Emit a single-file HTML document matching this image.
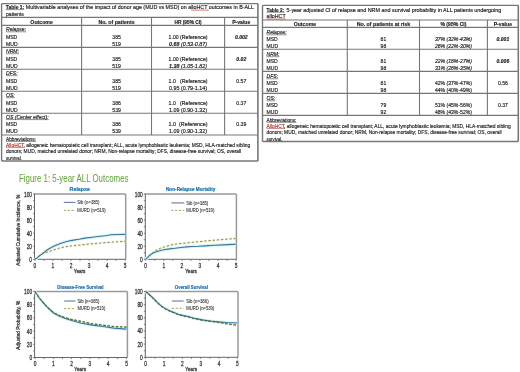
<!DOCTYPE html>
<html><head><meta charset="utf-8"><style>
html,body{margin:0;padding:0;background:#fff;width:520px;height:372px;overflow:hidden}
svg{display:block;will-change:transform;font-family:"Liberation Sans", sans-serif}
text{stroke-width:0.18px}
</style></head><body>
<svg width="520" height="372" viewBox="0 0 520 372" fill="#222">
<line x1="1.6" y1="3.6" x2="257.9" y2="3.6" stroke="#777" stroke-width="1.2"/>
<line x1="1.6" y1="161.0" x2="257.9" y2="161.0" stroke="#777" stroke-width="1.6"/>
<line x1="1.6" y1="3.6" x2="1.6" y2="161.0" stroke="#777" stroke-width="1.4"/>
<line x1="257.9" y1="3.6" x2="257.9" y2="161.0" stroke="#777" stroke-width="1.6"/>
<line x1="1.6" y1="17.4" x2="257.9" y2="17.4" stroke="#777" stroke-width="1.1"/>
<line x1="1.6" y1="25.4" x2="257.9" y2="25.4" stroke="#777" stroke-width="1.1"/>
<line x1="1.6" y1="47.35" x2="257.9" y2="47.35" stroke="#777" stroke-width="1.1"/>
<line x1="1.6" y1="69.3" x2="257.9" y2="69.3" stroke="#777" stroke-width="1.1"/>
<line x1="1.6" y1="91.25" x2="257.9" y2="91.25" stroke="#777" stroke-width="1.1"/>
<line x1="1.6" y1="113.2" x2="257.9" y2="113.2" stroke="#777" stroke-width="1.1"/>
<line x1="1.6" y1="135.0" x2="257.9" y2="135.0" stroke="#777" stroke-width="1.1"/>
<line x1="81.6" y1="17.4" x2="81.6" y2="135.0" stroke="#777" stroke-width="1.1"/>
<line x1="151.5" y1="17.4" x2="151.5" y2="135.0" stroke="#777" stroke-width="1.1"/>
<line x1="224.6" y1="17.4" x2="224.6" y2="135.0" stroke="#777" stroke-width="1.1"/>
<line x1="262.5" y1="5.4" x2="518.3" y2="5.4" stroke="#777" stroke-width="1.2"/>
<line x1="262.5" y1="141.5" x2="518.3" y2="141.5" stroke="#777" stroke-width="1.6"/>
<line x1="262.5" y1="5.4" x2="262.5" y2="141.5" stroke="#777" stroke-width="1.4"/>
<line x1="518.3" y1="5.4" x2="518.3" y2="141.5" stroke="#777" stroke-width="1.6"/>
<line x1="262.5" y1="20.0" x2="518.3" y2="20.0" stroke="#777" stroke-width="1.1"/>
<line x1="262.5" y1="27.4" x2="518.3" y2="27.4" stroke="#777" stroke-width="1.1"/>
<line x1="262.5" y1="49.3" x2="518.3" y2="49.3" stroke="#777" stroke-width="1.1"/>
<line x1="262.5" y1="71.4" x2="518.3" y2="71.4" stroke="#777" stroke-width="1.1"/>
<line x1="262.5" y1="93.4" x2="518.3" y2="93.4" stroke="#777" stroke-width="1.1"/>
<line x1="262.5" y1="115.4" x2="518.3" y2="115.4" stroke="#777" stroke-width="1.1"/>
<line x1="347.3" y1="20.0" x2="347.3" y2="115.4" stroke="#777" stroke-width="1.1"/>
<line x1="419.5" y1="20.0" x2="419.5" y2="115.4" stroke="#777" stroke-width="1.1"/>
<line x1="487.4" y1="20.0" x2="487.4" y2="115.4" stroke="#777" stroke-width="1.1"/>
<g>
<text font-size="6.0" font-weight="bold" stroke="#222" x="5.8" y="9.0" textLength="18.5" lengthAdjust="spacingAndGlyphs">Table 1:</text>
<line x1="5.80" y1="9.60" x2="24.30" y2="9.60" stroke="#333" stroke-width="0.55"/>
<text font-size="6.0" stroke="#222" x="25.8" y="9.0" textLength="228.2" lengthAdjust="spacingAndGlyphs">Multivariable analyses of the impact of donor age (MUD vs MSD) on alloHCT outcomes in B-ALL</text>
<line x1="191.2" y1="10.1" x2="208.8" y2="10.1" stroke="#c04040" stroke-width="0.7"/>
<text font-size="6.0" stroke="#222" transform="matrix(0.85,0,0,1,6,15.7)">patients</text>
<text font-size="6.0" text-anchor="middle" font-weight="bold" stroke="#222" x="41.599999999999994" y="23.6" textLength="22.5" lengthAdjust="spacingAndGlyphs">Outcome</text>
<text font-size="6.0" text-anchor="middle" font-weight="bold" stroke="#222" x="116.55" y="23.6" textLength="36.3" lengthAdjust="spacingAndGlyphs">No. of patients</text>
<text font-size="6.0" text-anchor="middle" font-weight="bold" stroke="#222" x="188.05" y="23.6" textLength="27" lengthAdjust="spacingAndGlyphs">HR (95% CI)</text>
<text font-size="6.0" text-anchor="middle" font-weight="bold" stroke="#222" x="241.25" y="23.6" textLength="18.2" lengthAdjust="spacingAndGlyphs">P-value</text>
<text font-size="6.0" font-style="italic" stroke="#222" transform="matrix(0.85,0,0,1,6,31.2)">Relapse:</text>
<line x1="6.00" y1="31.80" x2="26.13" y2="31.80" stroke="#333" stroke-width="0.55"/>
<text font-size="6.0" stroke="#222" transform="matrix(0.85,0,0,1,6,38.65)">MSD</text>
<text font-size="6.0" stroke="#222" transform="matrix(0.85,0,0,1,6,45.65)">MUD</text>
<text font-size="6.0" text-anchor="middle" stroke="#222" transform="matrix(0.85,0,0,1,116.55,38.65)">385</text>
<text font-size="6.0" text-anchor="middle" stroke="#222" transform="matrix(0.85,0,0,1,116.55,45.65)">519</text>
<text font-size="6.0" text-anchor="middle" stroke="#222" x="188.05" y="38.65" textLength="39" lengthAdjust="spacingAndGlyphs">1.00 (Reference)</text>
<text font-size="6.0" text-anchor="middle" font-style="italic" stroke="#222" x="188.05" y="45.65" textLength="38" lengthAdjust="spacingAndGlyphs"><tspan font-weight="bold">0.68</tspan> (0.53-0.87)</text>
<text font-size="6.0" text-anchor="middle" font-weight="bold" font-style="italic" stroke="#222" transform="matrix(0.85,0,0,1,241.25,38.65)">0.002</text>
<text font-size="6.0" font-style="italic" stroke="#222" transform="matrix(0.85,0,0,1,6,53.15)">NRM:</text>
<line x1="6.00" y1="53.75" x2="19.03" y2="53.75" stroke="#333" stroke-width="0.55"/>
<text font-size="6.0" stroke="#222" transform="matrix(0.85,0,0,1,6,60.6)">MSD</text>
<text font-size="6.0" stroke="#222" transform="matrix(0.85,0,0,1,6,67.6)">MUD</text>
<text font-size="6.0" text-anchor="middle" stroke="#222" transform="matrix(0.85,0,0,1,116.55,60.6)">385</text>
<text font-size="6.0" text-anchor="middle" stroke="#222" transform="matrix(0.85,0,0,1,116.55,67.6)">519</text>
<text font-size="6.0" text-anchor="middle" stroke="#222" x="188.05" y="60.6" textLength="39" lengthAdjust="spacingAndGlyphs">1.00 (Reference)</text>
<text font-size="6.0" text-anchor="middle" font-style="italic" stroke="#222" x="188.05" y="67.6" textLength="38" lengthAdjust="spacingAndGlyphs"><tspan font-weight="bold">1.38</tspan> (1.05-1.82)</text>
<text font-size="6.0" text-anchor="middle" font-weight="bold" font-style="italic" stroke="#222" transform="matrix(0.85,0,0,1,241.25,60.6)">0.02</text>
<text font-size="6.0" font-style="italic" stroke="#222" transform="matrix(0.85,0,0,1,6,75.1)">DFS:</text>
<line x1="6.00" y1="75.70" x2="17.62" y2="75.70" stroke="#333" stroke-width="0.55"/>
<text font-size="6.0" stroke="#222" transform="matrix(0.85,0,0,1,6,82.55)">MSD</text>
<text font-size="6.0" stroke="#222" transform="matrix(0.85,0,0,1,6,89.55)">MUD</text>
<text font-size="6.0" text-anchor="middle" stroke="#222" transform="matrix(0.85,0,0,1,116.55,82.55)">385</text>
<text font-size="6.0" text-anchor="middle" stroke="#222" transform="matrix(0.85,0,0,1,116.55,89.55)">519</text>
<text font-size="6.0" text-anchor="middle" stroke="#222" x="188.05" y="82.55" textLength="39" lengthAdjust="spacingAndGlyphs">1.0&#160;&#160;&#160;(Reference)</text>
<text font-size="6.0" text-anchor="middle" stroke="#222" x="188.05" y="89.55" textLength="38" lengthAdjust="spacingAndGlyphs">0.95 (0.79-1.14)</text>
<text font-size="6.0" text-anchor="middle" stroke="#222" transform="matrix(0.85,0,0,1,241.25,82.55)">0.57</text>
<text font-size="6.0" font-style="italic" stroke="#222" transform="matrix(0.85,0,0,1,6,97.05)">OS:</text>
<line x1="6.00" y1="97.65" x2="14.79" y2="97.65" stroke="#333" stroke-width="0.55"/>
<text font-size="6.0" stroke="#222" transform="matrix(0.85,0,0,1,6,104.5)">MSD</text>
<text font-size="6.0" stroke="#222" transform="matrix(0.85,0,0,1,6,111.5)">MUD</text>
<text font-size="6.0" text-anchor="middle" stroke="#222" transform="matrix(0.85,0,0,1,116.55,104.5)">386</text>
<text font-size="6.0" text-anchor="middle" stroke="#222" transform="matrix(0.85,0,0,1,116.55,111.5)">539</text>
<text font-size="6.0" text-anchor="middle" stroke="#222" x="188.05" y="104.5" textLength="39" lengthAdjust="spacingAndGlyphs">1.0&#160;&#160;&#160;(Reference)</text>
<text font-size="6.0" text-anchor="middle" stroke="#222" x="188.05" y="111.5" textLength="38" lengthAdjust="spacingAndGlyphs">1.09 (0.90-1.32)</text>
<text font-size="6.0" text-anchor="middle" stroke="#222" transform="matrix(0.85,0,0,1,241.25,104.5)">0.37</text>
<text font-size="6.0" font-style="italic" stroke="#222" transform="matrix(0.85,0,0,1,6,119.0)">OS (Center effect):</text>
<line x1="6.00" y1="119.60" x2="48.80" y2="119.60" stroke="#333" stroke-width="0.55"/>
<text font-size="6.0" stroke="#222" transform="matrix(0.85,0,0,1,6,126.45)">MSD</text>
<text font-size="6.0" stroke="#222" transform="matrix(0.85,0,0,1,6,133.45)">MUD</text>
<text font-size="6.0" text-anchor="middle" stroke="#222" transform="matrix(0.85,0,0,1,116.55,126.45)">386</text>
<text font-size="6.0" text-anchor="middle" stroke="#222" transform="matrix(0.85,0,0,1,116.55,133.45)">539</text>
<text font-size="6.0" text-anchor="middle" stroke="#222" x="188.05" y="126.45" textLength="39" lengthAdjust="spacingAndGlyphs">1.0&#160;&#160;(Reference)</text>
<text font-size="6.0" text-anchor="middle" stroke="#222" x="188.05" y="133.45" textLength="38" lengthAdjust="spacingAndGlyphs">1.09 (0.90-1.32)</text>
<text font-size="6.0" text-anchor="middle" stroke="#222" transform="matrix(0.85,0,0,1,241.25,126.45)">0.39</text>
<text font-size="6.0" stroke="#222" x="6" y="140.8" textLength="29.9" lengthAdjust="spacingAndGlyphs">Abbreviations:</text>
<line x1="6.00" y1="141.40" x2="35.90" y2="141.40" stroke="#333" stroke-width="0.55"/>
<line x1="6.00" y1="147.50" x2="24.15" y2="147.50" stroke="#b03a2e" stroke-width="0.55"/>
<text font-size="6.0" stroke="#222" x="6" y="146.9" textLength="244.2" lengthAdjust="spacingAndGlyphs"><tspan fill="#b03a2e" stroke="#b03a2e">AlloHCT</tspan>, allogeneic hematopoietic cell transplant; ALL, acute lymphoblastic leukemia; MSD, HLA-matched sibling</text>
<text font-size="6.0" stroke="#222" x="6" y="153.1" textLength="235.2" lengthAdjust="spacingAndGlyphs">donors; MUD, matched unrelated donor; NRM, Non-relapse mortality; DFS, disease-free survival; OS, overall</text>
<text font-size="6.0" stroke="#222" x="6" y="159.6" textLength="15.8" lengthAdjust="spacingAndGlyphs">survival.</text>
</g>
<text font-size="6.0" font-weight="bold" stroke="#222" x="266.6" y="11.6" textLength="17.7" lengthAdjust="spacingAndGlyphs">Table 2:</text>
<line x1="266.60" y1="12.20" x2="284.30" y2="12.20" stroke="#333" stroke-width="0.55"/>
<text font-size="6.0" stroke="#222" x="286.6" y="11.6" textLength="214.7" lengthAdjust="spacingAndGlyphs">5-year adjusted CI of relapse and NRM and survival probability in ALL patients undergoing</text>
<text font-size="6.0" stroke="#222" x="266.6" y="18.1" textLength="19" lengthAdjust="spacingAndGlyphs">alloHCT</text>
<line x1="266.6" y1="19.0" x2="285.6" y2="19.0" stroke="#b04040" stroke-width="0.7"/>
<text font-size="6.0" text-anchor="middle" font-weight="bold" stroke="#222" x="304.9" y="26.0" textLength="22.5" lengthAdjust="spacingAndGlyphs">Outcome</text>
<text font-size="6.0" text-anchor="middle" font-weight="bold" stroke="#222" x="383.4" y="26.0" textLength="53.5" lengthAdjust="spacingAndGlyphs">No. of patients at risk</text>
<text font-size="6.0" text-anchor="middle" font-weight="bold" stroke="#222" x="453.45" y="26.0" textLength="26" lengthAdjust="spacingAndGlyphs">% (95% CI)</text>
<text font-size="6.0" text-anchor="middle" font-weight="bold" stroke="#222" x="502.84999999999997" y="26.0" textLength="18.3" lengthAdjust="spacingAndGlyphs">P-value</text>
<text font-size="6.0" font-style="italic" stroke="#222" transform="matrix(0.85,0,0,1,266.5,34.199999999999996)">Relapse:</text>
<line x1="266.50" y1="34.80" x2="286.63" y2="34.80" stroke="#333" stroke-width="0.55"/>
<text font-size="6.0" stroke="#222" transform="matrix(0.85,0,0,1,266.5,40.7)">MSD</text>
<text font-size="6.0" stroke="#222" transform="matrix(0.85,0,0,1,266.5,48.2)">MUD</text>
<text font-size="6.0" text-anchor="middle" stroke="#222" transform="matrix(0.85,0,0,1,383.4,40.7)">81</text>
<text font-size="6.0" text-anchor="middle" stroke="#222" transform="matrix(0.85,0,0,1,383.4,48.2)">98</text>
<text font-size="6.0" text-anchor="middle" font-style="italic" stroke="#222" x="453.45" y="40.7" textLength="37" lengthAdjust="spacingAndGlyphs">37% (32%-43%)</text>
<text font-size="6.0" text-anchor="middle" font-style="italic" stroke="#222" x="453.45" y="48.2" textLength="37" lengthAdjust="spacingAndGlyphs">26% (22%-30%)</text>
<text font-size="6.0" text-anchor="middle" font-weight="bold" font-style="italic" stroke="#222" transform="matrix(0.85,0,0,1,502.84999999999997,40.7)">0.001</text>
<text font-size="6.0" font-style="italic" stroke="#222" transform="matrix(0.85,0,0,1,266.5,56.099999999999994)">NRM:</text>
<line x1="266.50" y1="56.70" x2="279.53" y2="56.70" stroke="#333" stroke-width="0.55"/>
<text font-size="6.0" stroke="#222" transform="matrix(0.85,0,0,1,266.5,62.599999999999994)">MSD</text>
<text font-size="6.0" stroke="#222" transform="matrix(0.85,0,0,1,266.5,70.1)">MUD</text>
<text font-size="6.0" text-anchor="middle" stroke="#222" transform="matrix(0.85,0,0,1,383.4,62.599999999999994)">81</text>
<text font-size="6.0" text-anchor="middle" stroke="#222" transform="matrix(0.85,0,0,1,383.4,70.1)">98</text>
<text font-size="6.0" text-anchor="middle" font-style="italic" stroke="#222" x="453.45" y="62.599999999999994" textLength="37" lengthAdjust="spacingAndGlyphs">22% (18%-27%)</text>
<text font-size="6.0" text-anchor="middle" font-style="italic" stroke="#222" x="453.45" y="70.1" textLength="37" lengthAdjust="spacingAndGlyphs">31% (26%-35%)</text>
<text font-size="6.0" text-anchor="middle" font-weight="bold" font-style="italic" stroke="#222" transform="matrix(0.85,0,0,1,502.84999999999997,62.599999999999994)">0.006</text>
<text font-size="6.0" font-style="italic" stroke="#222" transform="matrix(0.85,0,0,1,266.5,78.2)">DFS:</text>
<line x1="266.50" y1="78.80" x2="278.12" y2="78.80" stroke="#333" stroke-width="0.55"/>
<text font-size="6.0" stroke="#222" transform="matrix(0.85,0,0,1,266.5,84.7)">MSD</text>
<text font-size="6.0" stroke="#222" transform="matrix(0.85,0,0,1,266.5,92.2)">MUD</text>
<text font-size="6.0" text-anchor="middle" stroke="#222" transform="matrix(0.85,0,0,1,383.4,84.7)">81</text>
<text font-size="6.0" text-anchor="middle" stroke="#222" transform="matrix(0.85,0,0,1,383.4,92.2)">98</text>
<text font-size="6.0" text-anchor="middle" stroke="#222" x="453.45" y="84.7" textLength="37" lengthAdjust="spacingAndGlyphs">42% (37%-47%)</text>
<text font-size="6.0" text-anchor="middle" stroke="#222" x="453.45" y="92.2" textLength="37" lengthAdjust="spacingAndGlyphs">44% (40%-49%)</text>
<text font-size="6.0" text-anchor="middle" stroke="#222" transform="matrix(0.85,0,0,1,502.84999999999997,84.7)">0.56</text>
<text font-size="6.0" font-style="italic" stroke="#222" transform="matrix(0.85,0,0,1,266.5,100.2)">OS:</text>
<line x1="266.50" y1="100.80" x2="275.29" y2="100.80" stroke="#333" stroke-width="0.55"/>
<text font-size="6.0" stroke="#222" transform="matrix(0.85,0,0,1,266.5,106.7)">MSD</text>
<text font-size="6.0" stroke="#222" transform="matrix(0.85,0,0,1,266.5,114.2)">MUD</text>
<text font-size="6.0" text-anchor="middle" stroke="#222" transform="matrix(0.85,0,0,1,383.4,106.7)">79</text>
<text font-size="6.0" text-anchor="middle" stroke="#222" transform="matrix(0.85,0,0,1,383.4,114.2)">92</text>
<text font-size="6.0" text-anchor="middle" stroke="#222" x="453.45" y="106.7" textLength="37" lengthAdjust="spacingAndGlyphs">51% (45%-56%)</text>
<text font-size="6.0" text-anchor="middle" stroke="#222" x="453.45" y="114.2" textLength="37" lengthAdjust="spacingAndGlyphs">48% (43%-52%)</text>
<text font-size="6.0" text-anchor="middle" stroke="#222" transform="matrix(0.85,0,0,1,502.84999999999997,106.7)">0.37</text>
<text font-size="6.0" stroke="#222" x="266.5" y="121.7" textLength="29.9" lengthAdjust="spacingAndGlyphs">Abbreviations:</text>
<line x1="266.50" y1="122.30" x2="296.40" y2="122.30" stroke="#333" stroke-width="0.55"/>
<line x1="266.50" y1="128.50" x2="284.65" y2="128.50" stroke="#b03a2e" stroke-width="0.55"/>
<text font-size="6.0" stroke="#222" x="266.5" y="127.9" textLength="244.2" lengthAdjust="spacingAndGlyphs"><tspan fill="#b03a2e" stroke="#b03a2e">AlloHCT</tspan>, allogeneic hematopoietic cell transplant; ALL, acute lymphoblastic leukemia; MSD, HLA-matched sibling</text>
<text font-size="6.0" stroke="#222" x="266.5" y="133.9" textLength="235.2" lengthAdjust="spacingAndGlyphs">donors; MUD, matched unrelated donor; NRM, Non-relapse mortality; DFS, disease-free survival; OS, overall</text>
<text font-size="6.0" stroke="#222" x="266.5" y="140.8" textLength="15.8" lengthAdjust="spacingAndGlyphs">survival.</text>
<text font-size="10.3" fill="#68a43c" stroke="#68a43c" x="18.9" y="181.6" textLength="109.6" lengthAdjust="spacingAndGlyphs" style="stroke-width:0.05px">Figure 1: 5-year ALL Outcomes</text>
<line x1="34.5" y1="194.1" x2="125.7" y2="194.1" stroke="#9a9a9a" stroke-width="1.5"/>
<line x1="125.7" y1="194.1" x2="125.7" y2="259.3" stroke="#9a9a9a" stroke-width="1.5"/>
<line x1="34.5" y1="193.5" x2="34.5" y2="259.8" stroke="#666" stroke-width="1.0"/>
<line x1="34.0" y1="259.3" x2="125.7" y2="259.3" stroke="#666" stroke-width="1.0"/>
<line x1="33.0" y1="259.3" x2="34.5" y2="259.3" stroke="#666" stroke-width="0.8"/>
<line x1="33.0" y1="252.78" x2="34.5" y2="252.78" stroke="#666" stroke-width="0.8"/>
<line x1="33.0" y1="246.26000000000002" x2="34.5" y2="246.26000000000002" stroke="#666" stroke-width="0.8"/>
<line x1="33.0" y1="239.74" x2="34.5" y2="239.74" stroke="#666" stroke-width="0.8"/>
<line x1="33.0" y1="233.22" x2="34.5" y2="233.22" stroke="#666" stroke-width="0.8"/>
<line x1="33.0" y1="226.7" x2="34.5" y2="226.7" stroke="#666" stroke-width="0.8"/>
<line x1="33.0" y1="220.18" x2="34.5" y2="220.18" stroke="#666" stroke-width="0.8"/>
<line x1="33.0" y1="213.66" x2="34.5" y2="213.66" stroke="#666" stroke-width="0.8"/>
<line x1="33.0" y1="207.14" x2="34.5" y2="207.14" stroke="#666" stroke-width="0.8"/>
<line x1="33.0" y1="200.62" x2="34.5" y2="200.62" stroke="#666" stroke-width="0.8"/>
<line x1="33.0" y1="194.1" x2="34.5" y2="194.1" stroke="#666" stroke-width="0.8"/>
<line x1="34.9" y1="259.3" x2="34.9" y2="260.90000000000003" stroke="#666" stroke-width="0.8"/>
<line x1="43.93" y1="259.3" x2="43.93" y2="260.90000000000003" stroke="#666" stroke-width="0.8"/>
<line x1="52.96" y1="259.3" x2="52.96" y2="260.90000000000003" stroke="#666" stroke-width="0.8"/>
<line x1="61.99" y1="259.3" x2="61.99" y2="260.90000000000003" stroke="#666" stroke-width="0.8"/>
<line x1="71.02000000000001" y1="259.3" x2="71.02000000000001" y2="260.90000000000003" stroke="#666" stroke-width="0.8"/>
<line x1="80.05000000000001" y1="259.3" x2="80.05000000000001" y2="260.90000000000003" stroke="#666" stroke-width="0.8"/>
<line x1="89.08000000000001" y1="259.3" x2="89.08000000000001" y2="260.90000000000003" stroke="#666" stroke-width="0.8"/>
<line x1="98.11000000000001" y1="259.3" x2="98.11000000000001" y2="260.90000000000003" stroke="#666" stroke-width="0.8"/>
<line x1="107.14000000000001" y1="259.3" x2="107.14000000000001" y2="260.90000000000003" stroke="#666" stroke-width="0.8"/>
<line x1="116.17000000000002" y1="259.3" x2="116.17000000000002" y2="260.90000000000003" stroke="#666" stroke-width="0.8"/>
<line x1="125.20000000000002" y1="259.3" x2="125.20000000000002" y2="260.90000000000003" stroke="#666" stroke-width="0.8"/>
<text font-size="6.7" text-anchor="end" fill="#3a3a3a" stroke="#3a3a3a" transform="matrix(0.72,0,0,1,32.0,261.8)" style="stroke-width:0.3px">0</text>
<text font-size="6.7" text-anchor="end" fill="#3a3a3a" stroke="#3a3a3a" transform="matrix(0.72,0,0,1,32.0,248.76000000000002)" style="stroke-width:0.3px">20</text>
<text font-size="6.7" text-anchor="end" fill="#3a3a3a" stroke="#3a3a3a" transform="matrix(0.72,0,0,1,32.0,235.72)" style="stroke-width:0.3px">40</text>
<text font-size="6.7" text-anchor="end" fill="#3a3a3a" stroke="#3a3a3a" transform="matrix(0.72,0,0,1,32.0,222.68)" style="stroke-width:0.3px">60</text>
<text font-size="6.7" text-anchor="end" fill="#3a3a3a" stroke="#3a3a3a" transform="matrix(0.72,0,0,1,32.0,209.64)" style="stroke-width:0.3px">80</text>
<text font-size="6.7" text-anchor="end" fill="#3a3a3a" stroke="#3a3a3a" transform="matrix(0.72,0,0,1,32.0,196.6)" style="stroke-width:0.3px">100</text>
<text font-size="6.7" text-anchor="middle" fill="#3a3a3a" stroke="#3a3a3a" transform="matrix(0.72,0,0,1,34.9,267.90000000000003)" style="stroke-width:0.3px">0</text>
<text font-size="6.7" text-anchor="middle" fill="#3a3a3a" stroke="#3a3a3a" transform="matrix(0.72,0,0,1,52.96,267.90000000000003)" style="stroke-width:0.3px">1</text>
<text font-size="6.7" text-anchor="middle" fill="#3a3a3a" stroke="#3a3a3a" transform="matrix(0.72,0,0,1,71.02000000000001,267.90000000000003)" style="stroke-width:0.3px">2</text>
<text font-size="6.7" text-anchor="middle" fill="#3a3a3a" stroke="#3a3a3a" transform="matrix(0.72,0,0,1,89.08000000000001,267.90000000000003)" style="stroke-width:0.3px">3</text>
<text font-size="6.7" text-anchor="middle" fill="#3a3a3a" stroke="#3a3a3a" transform="matrix(0.72,0,0,1,107.14000000000001,267.90000000000003)" style="stroke-width:0.3px">4</text>
<text font-size="6.7" text-anchor="middle" fill="#3a3a3a" stroke="#3a3a3a" transform="matrix(0.72,0,0,1,125.20000000000002,267.90000000000003)" style="stroke-width:0.3px">5</text>
<text font-size="5.8" text-anchor="middle" fill="#3a3a3a" stroke="#3a3a3a" x="79.6" y="272.8" textLength="11.7" lengthAdjust="spacingAndGlyphs" style="stroke-width:0.3px">Years</text>
<text font-size="5.7" text-anchor="middle" font-weight="bold" fill="#1f72aa" stroke="#1f72aa" x="79.8" y="191.2" textLength="20.400000000000006" lengthAdjust="spacingAndGlyphs" style="stroke-width:0.22px">Relapse</text>
<line x1="63.8" y1="202.4" x2="75.4" y2="202.4" stroke="#6f86b0" stroke-width="1.2"/>
<line x1="63.8" y1="210.4" x2="75.4" y2="210.4" stroke="#a8a848" stroke-width="1.0" stroke-dasharray="2.2,1.6"/>
<text font-size="5.0" fill="#3a3a3a" stroke="#3a3a3a" x="77.3" y="204.1" textLength="22.1" lengthAdjust="spacingAndGlyphs" style="stroke-width:0.12px">Sib (n=385)</text>
<text font-size="5.0" fill="#3a3a3a" stroke="#3a3a3a" x="77.3" y="212.1" textLength="28.4" lengthAdjust="spacingAndGlyphs" style="stroke-width:0.12px">MURD (n=519)</text>
<polyline points="34.90,259.30 36.71,258.32 38.80,256.30 42.20,253.89 45.70,251.08 49.10,248.80 53.19,246.52 57.20,244.70 61.79,243.00 67.61,241.30 73.40,240.13 79.09,239.22 84.91,238.11 92.40,237.20 98.11,236.48 107.14,235.50 110.75,234.78 117.98,234.46 125.20,234.39" fill="none" stroke="#dcf2f8" stroke-width="3.2" stroke-linejoin="round"/>
<polyline points="34.90,259.30 36.71,258.32 38.80,256.30 42.20,254.08 45.10,252.71 49.10,251.54 53.81,249.85 58.40,248.48 64.10,246.98 68.80,246.19 73.40,245.61 79.09,245.09 84.91,244.50 90.71,243.91 98.11,243.26 107.14,242.48 116.17,241.83 125.20,241.37" fill="none" stroke="#f0f2d0" stroke-width="2.6" stroke-dasharray="2.5,1.7"/>
<polyline points="34.90,259.30 36.71,258.32 38.80,256.30 42.20,254.08 45.10,252.71 49.10,251.54 53.81,249.85 58.40,248.48 64.10,246.98 68.80,246.19 73.40,245.61 79.09,245.09 84.91,244.50 90.71,243.91 98.11,243.26 107.14,242.48 116.17,241.83 125.20,241.37" fill="none" stroke="#8a9648" stroke-width="1.0" stroke-dasharray="2.5,1.7"/>
<polyline points="34.90,259.30 36.71,258.32 38.80,256.30 42.20,253.89 45.70,251.08 49.10,248.80 53.19,246.52 57.20,244.70 61.79,243.00 67.61,241.30 73.40,240.13 79.09,239.22 84.91,238.11 92.40,237.20 98.11,236.48 107.14,235.50 110.75,234.78 117.98,234.46 125.20,234.39" fill="none" stroke="#33789e" stroke-width="1.1" stroke-linejoin="round"/>
<text font-size="5.9" text-anchor="middle" fill="#3a3a3a" stroke="#3a3a3a" x="0" y="0" textLength="71.0" lengthAdjust="spacingAndGlyphs" style="stroke-width:0.3px" transform="translate(19.9,230.2) rotate(-90)">Adjusted Cumulative Incidence, %</text>
<line x1="145.29999999999998" y1="194.1" x2="236.4" y2="194.1" stroke="#9a9a9a" stroke-width="1.5"/>
<line x1="236.4" y1="194.1" x2="236.4" y2="259.3" stroke="#9a9a9a" stroke-width="1.5"/>
<line x1="145.29999999999998" y1="193.5" x2="145.29999999999998" y2="259.8" stroke="#666" stroke-width="1.0"/>
<line x1="144.79999999999998" y1="259.3" x2="236.4" y2="259.3" stroke="#666" stroke-width="1.0"/>
<line x1="143.79999999999998" y1="259.3" x2="145.29999999999998" y2="259.3" stroke="#666" stroke-width="0.8"/>
<line x1="143.79999999999998" y1="252.78" x2="145.29999999999998" y2="252.78" stroke="#666" stroke-width="0.8"/>
<line x1="143.79999999999998" y1="246.26000000000002" x2="145.29999999999998" y2="246.26000000000002" stroke="#666" stroke-width="0.8"/>
<line x1="143.79999999999998" y1="239.74" x2="145.29999999999998" y2="239.74" stroke="#666" stroke-width="0.8"/>
<line x1="143.79999999999998" y1="233.22" x2="145.29999999999998" y2="233.22" stroke="#666" stroke-width="0.8"/>
<line x1="143.79999999999998" y1="226.7" x2="145.29999999999998" y2="226.7" stroke="#666" stroke-width="0.8"/>
<line x1="143.79999999999998" y1="220.18" x2="145.29999999999998" y2="220.18" stroke="#666" stroke-width="0.8"/>
<line x1="143.79999999999998" y1="213.66" x2="145.29999999999998" y2="213.66" stroke="#666" stroke-width="0.8"/>
<line x1="143.79999999999998" y1="207.14" x2="145.29999999999998" y2="207.14" stroke="#666" stroke-width="0.8"/>
<line x1="143.79999999999998" y1="200.62" x2="145.29999999999998" y2="200.62" stroke="#666" stroke-width="0.8"/>
<line x1="143.79999999999998" y1="194.1" x2="145.29999999999998" y2="194.1" stroke="#666" stroke-width="0.8"/>
<line x1="145.7" y1="259.3" x2="145.7" y2="260.90000000000003" stroke="#666" stroke-width="0.8"/>
<line x1="154.73999999999998" y1="259.3" x2="154.73999999999998" y2="260.90000000000003" stroke="#666" stroke-width="0.8"/>
<line x1="163.78" y1="259.3" x2="163.78" y2="260.90000000000003" stroke="#666" stroke-width="0.8"/>
<line x1="172.82" y1="259.3" x2="172.82" y2="260.90000000000003" stroke="#666" stroke-width="0.8"/>
<line x1="181.85999999999999" y1="259.3" x2="181.85999999999999" y2="260.90000000000003" stroke="#666" stroke-width="0.8"/>
<line x1="190.89999999999998" y1="259.3" x2="190.89999999999998" y2="260.90000000000003" stroke="#666" stroke-width="0.8"/>
<line x1="199.94" y1="259.3" x2="199.94" y2="260.90000000000003" stroke="#666" stroke-width="0.8"/>
<line x1="208.98" y1="259.3" x2="208.98" y2="260.90000000000003" stroke="#666" stroke-width="0.8"/>
<line x1="218.01999999999998" y1="259.3" x2="218.01999999999998" y2="260.90000000000003" stroke="#666" stroke-width="0.8"/>
<line x1="227.06" y1="259.3" x2="227.06" y2="260.90000000000003" stroke="#666" stroke-width="0.8"/>
<line x1="236.1" y1="259.3" x2="236.1" y2="260.90000000000003" stroke="#666" stroke-width="0.8"/>
<text font-size="6.7" text-anchor="end" fill="#3a3a3a" stroke="#3a3a3a" transform="matrix(0.72,0,0,1,142.79999999999998,261.8)" style="stroke-width:0.3px">0</text>
<text font-size="6.7" text-anchor="end" fill="#3a3a3a" stroke="#3a3a3a" transform="matrix(0.72,0,0,1,142.79999999999998,248.76000000000002)" style="stroke-width:0.3px">20</text>
<text font-size="6.7" text-anchor="end" fill="#3a3a3a" stroke="#3a3a3a" transform="matrix(0.72,0,0,1,142.79999999999998,235.72)" style="stroke-width:0.3px">40</text>
<text font-size="6.7" text-anchor="end" fill="#3a3a3a" stroke="#3a3a3a" transform="matrix(0.72,0,0,1,142.79999999999998,222.68)" style="stroke-width:0.3px">60</text>
<text font-size="6.7" text-anchor="end" fill="#3a3a3a" stroke="#3a3a3a" transform="matrix(0.72,0,0,1,142.79999999999998,209.64)" style="stroke-width:0.3px">80</text>
<text font-size="6.7" text-anchor="end" fill="#3a3a3a" stroke="#3a3a3a" transform="matrix(0.72,0,0,1,142.79999999999998,196.6)" style="stroke-width:0.3px">100</text>
<text font-size="6.7" text-anchor="middle" fill="#3a3a3a" stroke="#3a3a3a" transform="matrix(0.72,0,0,1,145.7,267.90000000000003)" style="stroke-width:0.3px">0</text>
<text font-size="6.7" text-anchor="middle" fill="#3a3a3a" stroke="#3a3a3a" transform="matrix(0.72,0,0,1,163.78,267.90000000000003)" style="stroke-width:0.3px">1</text>
<text font-size="6.7" text-anchor="middle" fill="#3a3a3a" stroke="#3a3a3a" transform="matrix(0.72,0,0,1,181.85999999999999,267.90000000000003)" style="stroke-width:0.3px">2</text>
<text font-size="6.7" text-anchor="middle" fill="#3a3a3a" stroke="#3a3a3a" transform="matrix(0.72,0,0,1,199.94,267.90000000000003)" style="stroke-width:0.3px">3</text>
<text font-size="6.7" text-anchor="middle" fill="#3a3a3a" stroke="#3a3a3a" transform="matrix(0.72,0,0,1,218.01999999999998,267.90000000000003)" style="stroke-width:0.3px">4</text>
<text font-size="6.7" text-anchor="middle" fill="#3a3a3a" stroke="#3a3a3a" transform="matrix(0.72,0,0,1,236.1,267.90000000000003)" style="stroke-width:0.3px">5</text>
<text font-size="5.8" text-anchor="middle" fill="#3a3a3a" stroke="#3a3a3a" x="191.0" y="272.8" textLength="11.7" lengthAdjust="spacingAndGlyphs" style="stroke-width:0.3px">Years</text>
<text font-size="5.7" text-anchor="middle" font-weight="bold" fill="#1f72aa" stroke="#1f72aa" x="190.65" y="191.39999999999998" textLength="49.30000000000001" lengthAdjust="spacingAndGlyphs" style="stroke-width:0.22px">Non-Relapse Mortality</text>
<line x1="171.3" y1="202.9" x2="184.3" y2="202.9" stroke="#6f86b0" stroke-width="1.2"/>
<line x1="171.3" y1="210.4" x2="184.3" y2="210.4" stroke="#a8a848" stroke-width="1.0" stroke-dasharray="2.2,1.6"/>
<text font-size="5.0" fill="#3a3a3a" stroke="#3a3a3a" x="186.2" y="204.6" textLength="22.1" lengthAdjust="spacingAndGlyphs" style="stroke-width:0.12px">Sib (n=385)</text>
<text font-size="5.0" fill="#3a3a3a" stroke="#3a3a3a" x="186.2" y="212.1" textLength="28.1" lengthAdjust="spacingAndGlyphs" style="stroke-width:0.12px">MURD (n=519)</text>
<polyline points="145.70,259.30 149.14,255.78 153.11,252.91 157.81,251.22 163.60,249.72 169.38,248.87 175.17,248.28 180.96,247.50 186.74,246.91 192.35,246.46 198.13,246.26 205.00,245.87 214.22,245.28 223.26,244.83 232.48,244.37 236.10,244.30" fill="none" stroke="#dcf2f8" stroke-width="3.2" stroke-linejoin="round"/>
<polyline points="145.70,259.30 147.51,257.34 150.94,254.28 155.46,250.69 160.16,248.41 164.86,246.72 170.47,245.09 176.26,244.04 182.04,243.39 187.83,242.80 193.61,242.22 199.40,241.70 205.00,241.04 214.22,240.20 223.26,239.48 232.48,238.76 236.10,238.63" fill="none" stroke="#f0f2d0" stroke-width="2.6" stroke-dasharray="2.5,1.7"/>
<polyline points="145.70,259.30 147.51,257.34 150.94,254.28 155.46,250.69 160.16,248.41 164.86,246.72 170.47,245.09 176.26,244.04 182.04,243.39 187.83,242.80 193.61,242.22 199.40,241.70 205.00,241.04 214.22,240.20 223.26,239.48 232.48,238.76 236.10,238.63" fill="none" stroke="#8a9648" stroke-width="1.0" stroke-dasharray="2.5,1.7"/>
<polyline points="145.70,259.30 149.14,255.78 153.11,252.91 157.81,251.22 163.60,249.72 169.38,248.87 175.17,248.28 180.96,247.50 186.74,246.91 192.35,246.46 198.13,246.26 205.00,245.87 214.22,245.28 223.26,244.83 232.48,244.37 236.10,244.30" fill="none" stroke="#33789e" stroke-width="1.1" stroke-linejoin="round"/>
<line x1="34.6" y1="291.5" x2="127.4" y2="291.5" stroke="#9a9a9a" stroke-width="1.5"/>
<line x1="127.4" y1="291.5" x2="127.4" y2="357.5" stroke="#9a9a9a" stroke-width="1.5"/>
<line x1="34.6" y1="290.9" x2="34.6" y2="358.0" stroke="#666" stroke-width="1.0"/>
<line x1="34.1" y1="357.5" x2="127.4" y2="357.5" stroke="#666" stroke-width="1.0"/>
<line x1="33.1" y1="357.5" x2="34.6" y2="357.5" stroke="#666" stroke-width="0.8"/>
<line x1="33.1" y1="350.9" x2="34.6" y2="350.9" stroke="#666" stroke-width="0.8"/>
<line x1="33.1" y1="344.3" x2="34.6" y2="344.3" stroke="#666" stroke-width="0.8"/>
<line x1="33.1" y1="337.7" x2="34.6" y2="337.7" stroke="#666" stroke-width="0.8"/>
<line x1="33.1" y1="331.1" x2="34.6" y2="331.1" stroke="#666" stroke-width="0.8"/>
<line x1="33.1" y1="324.5" x2="34.6" y2="324.5" stroke="#666" stroke-width="0.8"/>
<line x1="33.1" y1="317.9" x2="34.6" y2="317.9" stroke="#666" stroke-width="0.8"/>
<line x1="33.1" y1="311.3" x2="34.6" y2="311.3" stroke="#666" stroke-width="0.8"/>
<line x1="33.1" y1="304.7" x2="34.6" y2="304.7" stroke="#666" stroke-width="0.8"/>
<line x1="33.1" y1="298.1" x2="34.6" y2="298.1" stroke="#666" stroke-width="0.8"/>
<line x1="33.1" y1="291.5" x2="34.6" y2="291.5" stroke="#666" stroke-width="0.8"/>
<line x1="35.0" y1="357.5" x2="35.0" y2="359.1" stroke="#666" stroke-width="0.8"/>
<line x1="44.15" y1="357.5" x2="44.15" y2="359.1" stroke="#666" stroke-width="0.8"/>
<line x1="53.3" y1="357.5" x2="53.3" y2="359.1" stroke="#666" stroke-width="0.8"/>
<line x1="62.45" y1="357.5" x2="62.45" y2="359.1" stroke="#666" stroke-width="0.8"/>
<line x1="71.6" y1="357.5" x2="71.6" y2="359.1" stroke="#666" stroke-width="0.8"/>
<line x1="80.75" y1="357.5" x2="80.75" y2="359.1" stroke="#666" stroke-width="0.8"/>
<line x1="89.9" y1="357.5" x2="89.9" y2="359.1" stroke="#666" stroke-width="0.8"/>
<line x1="99.05" y1="357.5" x2="99.05" y2="359.1" stroke="#666" stroke-width="0.8"/>
<line x1="108.2" y1="357.5" x2="108.2" y2="359.1" stroke="#666" stroke-width="0.8"/>
<line x1="117.35000000000001" y1="357.5" x2="117.35000000000001" y2="359.1" stroke="#666" stroke-width="0.8"/>
<line x1="126.5" y1="357.5" x2="126.5" y2="359.1" stroke="#666" stroke-width="0.8"/>
<text font-size="6.7" text-anchor="end" fill="#3a3a3a" stroke="#3a3a3a" transform="matrix(0.72,0,0,1,32.1,360.0)" style="stroke-width:0.3px">0</text>
<text font-size="6.7" text-anchor="end" fill="#3a3a3a" stroke="#3a3a3a" transform="matrix(0.72,0,0,1,32.1,346.8)" style="stroke-width:0.3px">20</text>
<text font-size="6.7" text-anchor="end" fill="#3a3a3a" stroke="#3a3a3a" transform="matrix(0.72,0,0,1,32.1,333.6)" style="stroke-width:0.3px">40</text>
<text font-size="6.7" text-anchor="end" fill="#3a3a3a" stroke="#3a3a3a" transform="matrix(0.72,0,0,1,32.1,320.4)" style="stroke-width:0.3px">60</text>
<text font-size="6.7" text-anchor="end" fill="#3a3a3a" stroke="#3a3a3a" transform="matrix(0.72,0,0,1,32.1,307.2)" style="stroke-width:0.3px">80</text>
<text font-size="6.7" text-anchor="end" fill="#3a3a3a" stroke="#3a3a3a" transform="matrix(0.72,0,0,1,32.1,294.0)" style="stroke-width:0.3px">100</text>
<text font-size="6.7" text-anchor="middle" fill="#3a3a3a" stroke="#3a3a3a" transform="matrix(0.72,0,0,1,35.0,366.1)" style="stroke-width:0.3px">0</text>
<text font-size="6.7" text-anchor="middle" fill="#3a3a3a" stroke="#3a3a3a" transform="matrix(0.72,0,0,1,53.3,366.1)" style="stroke-width:0.3px">1</text>
<text font-size="6.7" text-anchor="middle" fill="#3a3a3a" stroke="#3a3a3a" transform="matrix(0.72,0,0,1,71.6,366.1)" style="stroke-width:0.3px">2</text>
<text font-size="6.7" text-anchor="middle" fill="#3a3a3a" stroke="#3a3a3a" transform="matrix(0.72,0,0,1,89.9,366.1)" style="stroke-width:0.3px">3</text>
<text font-size="6.7" text-anchor="middle" fill="#3a3a3a" stroke="#3a3a3a" transform="matrix(0.72,0,0,1,108.2,366.1)" style="stroke-width:0.3px">4</text>
<text font-size="6.7" text-anchor="middle" fill="#3a3a3a" stroke="#3a3a3a" transform="matrix(0.72,0,0,1,126.5,366.1)" style="stroke-width:0.3px">5</text>
<text font-size="5.8" text-anchor="middle" fill="#3a3a3a" stroke="#3a3a3a" x="80.2" y="371.0" textLength="11.7" lengthAdjust="spacingAndGlyphs" style="stroke-width:0.3px">Years</text>
<text font-size="5.7" text-anchor="middle" font-weight="bold" fill="#1f72aa" stroke="#1f72aa" x="80.4" y="289.0" textLength="46.39999999999999" lengthAdjust="spacingAndGlyphs" style="stroke-width:0.22px">Disease-Free Survival</text>
<line x1="64.2" y1="301.0" x2="75.5" y2="301.0" stroke="#6f86b0" stroke-width="1.2"/>
<line x1="64.2" y1="308.6" x2="75.5" y2="308.6" stroke="#a8a848" stroke-width="1.0" stroke-dasharray="2.2,1.6"/>
<text font-size="5.0" fill="#3a3a3a" stroke="#3a3a3a" x="77.4" y="302.7" textLength="21.9" lengthAdjust="spacingAndGlyphs" style="stroke-width:0.12px">Sib (n=385)</text>
<text font-size="5.0" fill="#3a3a3a" stroke="#3a3a3a" x="77.4" y="310.3" textLength="27.9" lengthAdjust="spacingAndGlyphs" style="stroke-width:0.12px">MURD (n=519)</text>
<polyline points="35.00,291.50 37.10,294.80 39.94,298.76 43.23,302.72 46.71,306.68 50.19,309.98 54.03,313.28 59.16,315.92 64.65,318.23 70.87,320.21 81.48,323.18 92.28,325.16 103.08,326.48 113.87,328.13 126.50,329.12" fill="none" stroke="#dcf2f8" stroke-width="3.2" stroke-linejoin="round"/>
<polyline points="35.00,291.50 37.10,294.80 39.94,298.76 43.23,302.72 46.71,306.55 50.19,309.78 54.03,312.95 59.16,315.39 64.65,317.57 70.87,319.22 81.48,321.53 92.28,323.84 103.08,325.16 113.87,326.48 126.50,327.14" fill="none" stroke="#f0f2d0" stroke-width="2.6" stroke-dasharray="2.5,1.7"/>
<polyline points="35.00,291.50 37.10,294.80 39.94,298.76 43.23,302.72 46.71,306.55 50.19,309.78 54.03,312.95 59.16,315.39 64.65,317.57 70.87,319.22 81.48,321.53 92.28,323.84 103.08,325.16 113.87,326.48 126.50,327.14" fill="none" stroke="#8a9648" stroke-width="1.0" stroke-dasharray="2.5,1.7"/>
<polyline points="35.00,291.50 37.10,294.80 39.94,298.76 43.23,302.72 46.71,306.68 50.19,309.98 54.03,313.28 59.16,315.92 64.65,318.23 70.87,320.21 81.48,323.18 92.28,325.16 103.08,326.48 113.87,328.13 126.50,329.12" fill="none" stroke="#33789e" stroke-width="1.1" stroke-linejoin="round"/>
<polyline points="35.00,291.50 37.10,294.80 39.94,298.76 43.23,302.72 46.71,306.55 50.19,309.78 54.03,312.95 59.16,315.39 64.65,317.57 70.87,319.22 81.48,321.53 92.28,323.84 103.08,325.16 113.87,326.48 126.50,327.14" fill="none" stroke="#4a7048" stroke-width="1.1" stroke-dasharray="2.5,1.7"/>
<text font-size="5.9" text-anchor="middle" fill="#3a3a3a" stroke="#3a3a3a" x="0" y="0" textLength="49.0" lengthAdjust="spacingAndGlyphs" style="stroke-width:0.3px" transform="translate(19.9,325.2) rotate(-90)">Adjusted Probability, %</text>
<line x1="145.29999999999998" y1="291.5" x2="238.0" y2="291.5" stroke="#9a9a9a" stroke-width="1.5"/>
<line x1="238.0" y1="291.5" x2="238.0" y2="357.3" stroke="#9a9a9a" stroke-width="1.5"/>
<line x1="145.29999999999998" y1="290.9" x2="145.29999999999998" y2="357.8" stroke="#666" stroke-width="1.0"/>
<line x1="144.79999999999998" y1="357.3" x2="238.0" y2="357.3" stroke="#666" stroke-width="1.0"/>
<line x1="143.79999999999998" y1="357.3" x2="145.29999999999998" y2="357.3" stroke="#666" stroke-width="0.8"/>
<line x1="143.79999999999998" y1="350.72" x2="145.29999999999998" y2="350.72" stroke="#666" stroke-width="0.8"/>
<line x1="143.79999999999998" y1="344.14" x2="145.29999999999998" y2="344.14" stroke="#666" stroke-width="0.8"/>
<line x1="143.79999999999998" y1="337.56" x2="145.29999999999998" y2="337.56" stroke="#666" stroke-width="0.8"/>
<line x1="143.79999999999998" y1="330.98" x2="145.29999999999998" y2="330.98" stroke="#666" stroke-width="0.8"/>
<line x1="143.79999999999998" y1="324.4" x2="145.29999999999998" y2="324.4" stroke="#666" stroke-width="0.8"/>
<line x1="143.79999999999998" y1="317.82" x2="145.29999999999998" y2="317.82" stroke="#666" stroke-width="0.8"/>
<line x1="143.79999999999998" y1="311.24" x2="145.29999999999998" y2="311.24" stroke="#666" stroke-width="0.8"/>
<line x1="143.79999999999998" y1="304.66" x2="145.29999999999998" y2="304.66" stroke="#666" stroke-width="0.8"/>
<line x1="143.79999999999998" y1="298.08" x2="145.29999999999998" y2="298.08" stroke="#666" stroke-width="0.8"/>
<line x1="143.79999999999998" y1="291.5" x2="145.29999999999998" y2="291.5" stroke="#666" stroke-width="0.8"/>
<line x1="145.7" y1="357.3" x2="145.7" y2="358.90000000000003" stroke="#666" stroke-width="0.8"/>
<line x1="154.87" y1="357.3" x2="154.87" y2="358.90000000000003" stroke="#666" stroke-width="0.8"/>
<line x1="164.04" y1="357.3" x2="164.04" y2="358.90000000000003" stroke="#666" stroke-width="0.8"/>
<line x1="173.20999999999998" y1="357.3" x2="173.20999999999998" y2="358.90000000000003" stroke="#666" stroke-width="0.8"/>
<line x1="182.38" y1="357.3" x2="182.38" y2="358.90000000000003" stroke="#666" stroke-width="0.8"/>
<line x1="191.55" y1="357.3" x2="191.55" y2="358.90000000000003" stroke="#666" stroke-width="0.8"/>
<line x1="200.72" y1="357.3" x2="200.72" y2="358.90000000000003" stroke="#666" stroke-width="0.8"/>
<line x1="209.89" y1="357.3" x2="209.89" y2="358.90000000000003" stroke="#666" stroke-width="0.8"/>
<line x1="219.06" y1="357.3" x2="219.06" y2="358.90000000000003" stroke="#666" stroke-width="0.8"/>
<line x1="228.23000000000002" y1="357.3" x2="228.23000000000002" y2="358.90000000000003" stroke="#666" stroke-width="0.8"/>
<line x1="237.4" y1="357.3" x2="237.4" y2="358.90000000000003" stroke="#666" stroke-width="0.8"/>
<text font-size="6.7" text-anchor="end" fill="#3a3a3a" stroke="#3a3a3a" transform="matrix(0.72,0,0,1,142.79999999999998,359.8)" style="stroke-width:0.3px">0</text>
<text font-size="6.7" text-anchor="end" fill="#3a3a3a" stroke="#3a3a3a" transform="matrix(0.72,0,0,1,142.79999999999998,346.64)" style="stroke-width:0.3px">20</text>
<text font-size="6.7" text-anchor="end" fill="#3a3a3a" stroke="#3a3a3a" transform="matrix(0.72,0,0,1,142.79999999999998,333.48)" style="stroke-width:0.3px">40</text>
<text font-size="6.7" text-anchor="end" fill="#3a3a3a" stroke="#3a3a3a" transform="matrix(0.72,0,0,1,142.79999999999998,320.32)" style="stroke-width:0.3px">60</text>
<text font-size="6.7" text-anchor="end" fill="#3a3a3a" stroke="#3a3a3a" transform="matrix(0.72,0,0,1,142.79999999999998,307.16)" style="stroke-width:0.3px">80</text>
<text font-size="6.7" text-anchor="end" fill="#3a3a3a" stroke="#3a3a3a" transform="matrix(0.72,0,0,1,142.79999999999998,294.0)" style="stroke-width:0.3px">100</text>
<text font-size="6.7" text-anchor="middle" fill="#3a3a3a" stroke="#3a3a3a" transform="matrix(0.72,0,0,1,145.7,365.90000000000003)" style="stroke-width:0.3px">0</text>
<text font-size="6.7" text-anchor="middle" fill="#3a3a3a" stroke="#3a3a3a" transform="matrix(0.72,0,0,1,164.04,365.90000000000003)" style="stroke-width:0.3px">1</text>
<text font-size="6.7" text-anchor="middle" fill="#3a3a3a" stroke="#3a3a3a" transform="matrix(0.72,0,0,1,182.38,365.90000000000003)" style="stroke-width:0.3px">2</text>
<text font-size="6.7" text-anchor="middle" fill="#3a3a3a" stroke="#3a3a3a" transform="matrix(0.72,0,0,1,200.72,365.90000000000003)" style="stroke-width:0.3px">3</text>
<text font-size="6.7" text-anchor="middle" fill="#3a3a3a" stroke="#3a3a3a" transform="matrix(0.72,0,0,1,219.06,365.90000000000003)" style="stroke-width:0.3px">4</text>
<text font-size="6.7" text-anchor="middle" fill="#3a3a3a" stroke="#3a3a3a" transform="matrix(0.72,0,0,1,237.4,365.90000000000003)" style="stroke-width:0.3px">5</text>
<text font-size="5.8" text-anchor="middle" fill="#3a3a3a" stroke="#3a3a3a" x="191.2" y="370.8" textLength="11.7" lengthAdjust="spacingAndGlyphs" style="stroke-width:0.3px">Years</text>
<text font-size="5.7" text-anchor="middle" font-weight="bold" fill="#1f72aa" stroke="#1f72aa" x="191.35000000000002" y="289.3" textLength="33.099999999999994" lengthAdjust="spacingAndGlyphs" style="stroke-width:0.22px">Overall Survival</text>
<line x1="171.8" y1="301.0" x2="183.6" y2="301.0" stroke="#6f86b0" stroke-width="1.2"/>
<line x1="171.8" y1="308.3" x2="183.6" y2="308.3" stroke="#a8a848" stroke-width="1.0" stroke-dasharray="2.2,1.6"/>
<text font-size="5.0" fill="#3a3a3a" stroke="#3a3a3a" x="186.2" y="302.7" textLength="22.4" lengthAdjust="spacingAndGlyphs" style="stroke-width:0.12px">Sib (n=386)</text>
<text font-size="5.0" fill="#3a3a3a" stroke="#3a3a3a" x="186.2" y="310.0" textLength="28.0" lengthAdjust="spacingAndGlyphs" style="stroke-width:0.12px">MURD (n=539)</text>
<polyline points="145.70,291.50 149.73,294.79 153.77,298.67 157.62,302.69 161.66,306.11 165.69,308.87 170.09,310.98 174.68,312.75 178.71,314.46 183.66,315.65 188.07,316.44 193.38,318.08 202.37,319.86 210.44,320.98 218.51,321.83 226.58,322.56 237.40,322.95" fill="none" stroke="#dcf2f8" stroke-width="3.2" stroke-linejoin="round"/>
<polyline points="145.70,291.50 149.73,295.12 153.77,299.07 157.62,303.01 161.66,306.44 165.69,309.13 170.09,311.24 174.68,313.08 178.71,314.79 183.66,315.98 188.07,316.83 193.38,318.48 202.37,320.19 210.44,321.37 218.51,322.43 226.58,323.74 234.65,324.93 237.40,325.19" fill="none" stroke="#f0f2d0" stroke-width="2.6" stroke-dasharray="2.5,1.7"/>
<polyline points="145.70,291.50 149.73,295.12 153.77,299.07 157.62,303.01 161.66,306.44 165.69,309.13 170.09,311.24 174.68,313.08 178.71,314.79 183.66,315.98 188.07,316.83 193.38,318.48 202.37,320.19 210.44,321.37 218.51,322.43 226.58,323.74 234.65,324.93 237.40,325.19" fill="none" stroke="#8a9648" stroke-width="1.0" stroke-dasharray="2.5,1.7"/>
<polyline points="145.70,291.50 149.73,294.79 153.77,298.67 157.62,302.69 161.66,306.11 165.69,308.87 170.09,310.98 174.68,312.75 178.71,314.46 183.66,315.65 188.07,316.44 193.38,318.08 202.37,319.86 210.44,320.98 218.51,321.83 226.58,322.56 237.40,322.95" fill="none" stroke="#33789e" stroke-width="1.1" stroke-linejoin="round"/>
<polyline points="145.70,291.50 149.73,295.12 153.77,299.07 157.62,303.01 161.66,306.44 165.69,309.13 170.09,311.24 174.68,313.08 178.71,314.79 183.66,315.98 188.07,316.83 193.38,318.48 202.37,320.19 210.44,321.37 218.51,322.43 226.58,323.74 234.65,324.93 237.40,325.19" fill="none" stroke="#4a7048" stroke-width="1.1" stroke-dasharray="2.5,1.7"/>
</svg>
</body></html>
